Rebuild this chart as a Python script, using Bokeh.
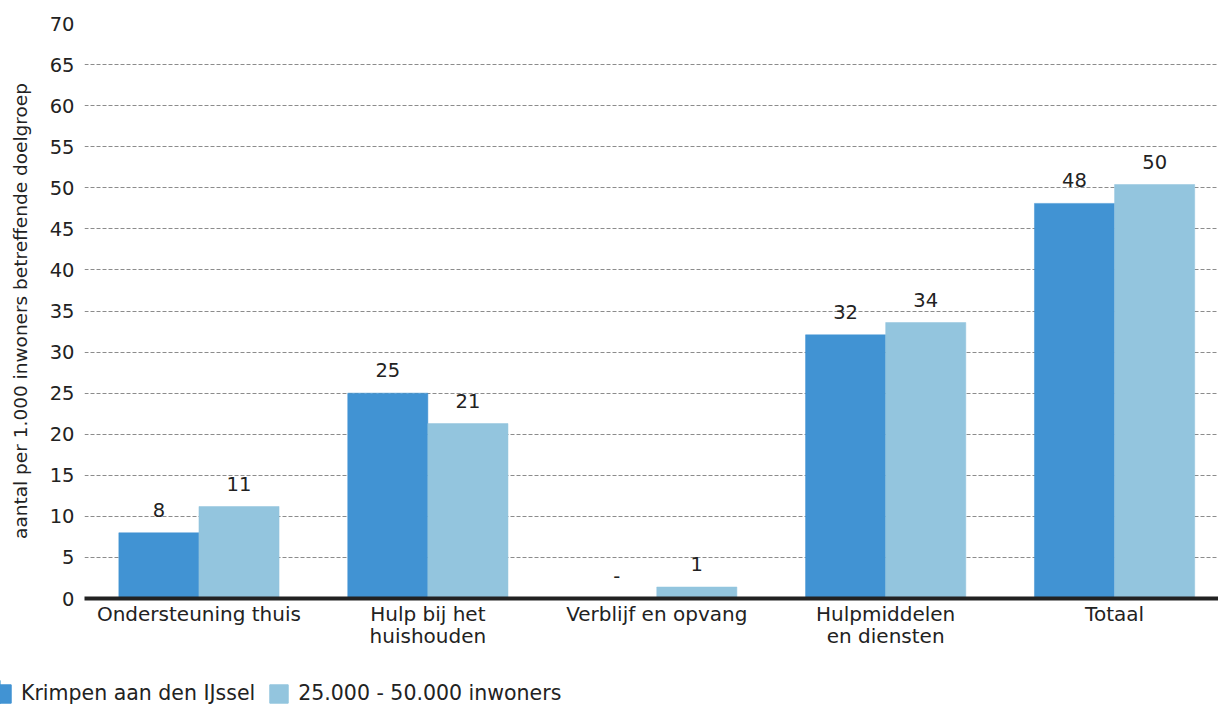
import numpy as np
from bokeh.plotting import figure
from bokeh.layouts import column, row
from bokeh.models import ColumnDataSource, Range1d, Legend, LegendItem, FixedTicker
from bokeh.embed import file_html
from bokeh.resources import INLINE
from bokeh.core.properties import value

categories = ["Ondersteuning thuis", "Hulp bij het\nhuishouden", "Verblijf en opvang",
              "Hulpmiddelen\nen diensten", "Totaal"]
krimpen = [8.0, 25.0, None, 32.1, 48.1]
referentie = [11.2, 21.3, 1.4, 33.6, 50.4]
krimpen_labels = ["8", "25", "-", "32", "48"]
referentie_labels = ["11", "21", "1", "34", "50"]
series_names = ["Krimpen aan den IJssel", "25.000 - 50.000 inwoners"]
y_ticks = [0, 5, 10, 15, 20, 25, 30, 35, 40, 45, 50, 55, 60, 65, 70]
y_label = "aantal per 1.000 inwoners betreffende doelgroep"

DARK = "#4193d3"
LIGHT = "#93c5de"
FONT = "DejaVu Sans"
BW = 0.35

xs = np.arange(len(categories), dtype=float)
k_vals = np.array([np.nan if v is None else v for v in krimpen])
r_vals = np.array(referentie, dtype=float)

src_k = ColumnDataSource(dict(x=xs - BW / 2, top=k_vals,
                              ly=np.nan_to_num(k_vals, nan=0.0), lab=krimpen_labels))
src_r = ColumnDataSource(dict(x=xs + BW / 2, top=r_vals, ly=r_vals, lab=referentie_labels))

p = figure(width=1218, height=680, output_backend="svg", toolbar_location=None,
           x_range=Range1d(-0.5, 4.454), y_range=Range1d(0, 70),
           min_border_left=84, min_border_right=0, min_border_top=23, min_border_bottom=82)
p.outline_line_color = None
p.background_fill_color = "white"

r1 = p.vbar(x="x", top="top", width=BW, source=src_k, fill_color=DARK, line_color=DARK, line_width=0.5)
r2 = p.vbar(x="x", top="top", width=BW, source=src_r, fill_color=LIGHT, line_color=LIGHT, line_width=0.5)

for src in (src_k, src_r):
    p.text(x="x", y="ly", text="lab", source=src, text_align="center", text_baseline="alphabetic",
           y_offset=-23, text_font=value(FONT), text_font_size="19.5px", text_color="#222222")

# grid
p.xgrid.grid_line_color = None
p.ygrid.ticker = FixedTicker(ticks=y_ticks)
p.ygrid.grid_line_color = "#8c8c8c"
p.ygrid.grid_line_dash = "4 2"
p.ygrid.grid_line_width = 1

# x axis
xa = p.xaxis[0]
xa.ticker = FixedTicker(ticks=list(xs))
xa.major_label_overrides = {i: c for i, c in enumerate(categories)}
xa.axis_line_color = "#222222"
xa.axis_line_width = 4
xa.major_tick_line_color = None
xa.minor_tick_line_color = None
xa.major_label_text_font = FONT
xa.major_label_text_font_size = "20px"
xa.major_label_text_color = "#222222"
xa.major_label_text_line_height = 0.95
xa.major_label_standoff = -3

# y axis
ya = p.yaxis[0]
ya.ticker = FixedTicker(ticks=y_ticks)
ya.axis_line_color = None
ya.major_tick_line_color = None
ya.minor_tick_line_color = None
ya.major_label_text_font = FONT
ya.major_label_text_font_size = "19.5px"
ya.major_label_text_color = "#222222"
ya.major_label_standoff = 4
ya.axis_label = y_label
ya.axis_label_text_font = FONT
ya.axis_label_text_font_size = "18.5px"
ya.axis_label_text_font_style = "normal"
ya.axis_label_text_color = "#222222"
ya.axis_label_standoff = 16

# legend strip below the chart
lg = figure(width=1218, height=24, output_backend="svg", toolbar_location=None,
            x_range=Range1d(0, 1), y_range=Range1d(0, 1),
            x_axis_type=None, y_axis_type=None,
            min_border_left=0, min_border_right=0, min_border_top=0, min_border_bottom=0)
lg.outline_line_color = None
lg.xgrid.visible = False
lg.ygrid.visible = False
d1 = lg.vbar(x=[-5], top=[1], width=0.1, fill_color=DARK, line_color=DARK)
d2 = lg.vbar(x=[-5], top=[1], width=0.1, fill_color=LIGHT, line_color=LIGHT)
legend = Legend(items=[LegendItem(label=series_names[0], renderers=[d1]),
                       LegendItem(label=series_names[1], renderers=[d2])],
                location=(-10, -1), orientation="horizontal",
                glyph_width=23, glyph_height=23, label_standoff=8, spacing=12,
                padding=0, margin=0, border_line_color=None, background_fill_alpha=0,
                label_text_font=FONT, label_text_font_size="20.5px", label_text_color="#222222")
lg.add_layout(legend, "center")

open("out.html", "w").write(file_html(column(p, row(lg), spacing=0), INLINE))
